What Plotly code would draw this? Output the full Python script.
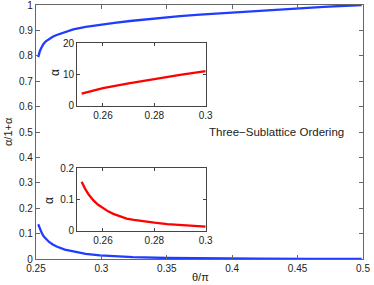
import plotly.graph_objects as go

# Main panel: alpha/(1+alpha) vs theta/pi
theta_upper = [0.2517, 0.2522, 0.2530, 0.2542, 0.2556, 0.2575, 0.2600, 0.2628, 0.2658, 0.2720, 0.2785,
               0.2880, 0.2964, 0.3100, 0.3219, 0.3350, 0.3474, 0.3600, 0.3754, 0.3900, 0.4100,
               0.4300, 0.4500, 0.4700, 0.4990]
ratio_upper = [0.795, 0.807, 0.819, 0.833, 0.846, 0.857, 0.867, 0.875, 0.882, 0.894, 0.904,
               0.914, 0.921, 0.930, 0.937, 0.944, 0.950, 0.956, 0.962, 0.967, 0.974,
               0.981, 0.987, 0.993, 1.000]
theta_lower = [0.2517, 0.2524, 0.2531, 0.2545, 0.2560, 0.2580, 0.2600, 0.2628, 0.2658, 0.2720,
               0.2785, 0.2880, 0.2990, 0.3100, 0.3240, 0.3500, 0.3800, 0.4200, 0.4600, 0.4990]
ratio_lower = [0.137, 0.126, 0.117, 0.101, 0.088, 0.076, 0.067, 0.057, 0.049, 0.037,
               0.029, 0.020, 0.014, 0.010, 0.007, 0.004, 0.002, 0.001, 0.0003, 0.0]

# Inset 1: upper alpha
theta_in1 = [0.2517, 0.2550, 0.2600, 0.2700, 0.2800, 0.2900, 0.3000]
alpha_in1 = [3.85, 4.55, 5.6, 7.15, 8.55, 9.85, 11.1]

# Inset 2: lower alpha
theta_in2 = [0.2517, 0.2523, 0.2530, 0.2545, 0.2562, 0.2580, 0.2600, 0.2620, 0.2640, 0.2665,
             0.2692, 0.2720, 0.2750, 0.2800, 0.2850, 0.2900, 0.2950, 0.3000]
alpha_in2 = [0.157, 0.146, 0.135, 0.115, 0.098, 0.084, 0.072, 0.062, 0.054, 0.046,
             0.039, 0.035, 0.031, 0.0256, 0.021, 0.018, 0.0155, 0.013]

main_xticks = [0.25, 0.3, 0.35, 0.4, 0.45, 0.5]
main_xlabels = ["0.25", "0.3", "0.35", "0.4", "0.45", "0.5"]
main_yticks = [0, 0.1, 0.2, 0.3, 0.4, 0.5, 0.6, 0.7, 0.8, 0.9, 1]
main_ylabels = ["0", "0.1", "0.2", "0.3", "0.4", "0.5", "0.6", "0.7", "0.8", "0.9", "1"]
inset_xticks = [0.26, 0.28, 0.3]
inset_xlabels = ["0.26", "0.28", "0.3"]
in1_yticks = [0, 10, 20]
in1_ylabels = ["0", "10", "20"]
in2_yticks = [0, 0.1, 0.2]
in2_ylabels = ["0", "0.1", "0.2"]

BLUE = "#1f3cff"
RED = "#ff0000"
FONT = "Liberation Sans, Arial, sans-serif"

fig = go.Figure()
fig.add_trace(go.Scatter(x=theta_upper, y=ratio_upper, mode="lines",
                         line=dict(color=BLUE, width=2.3), xaxis="x", yaxis="y"))
fig.add_trace(go.Scatter(x=theta_lower, y=ratio_lower, mode="lines",
                         line=dict(color=BLUE, width=2.3), xaxis="x", yaxis="y"))
fig.add_trace(go.Scatter(x=theta_in1, y=alpha_in1, mode="lines",
                         line=dict(color=RED, width=2.3), xaxis="x2", yaxis="y2"))
fig.add_trace(go.Scatter(x=theta_in2, y=alpha_in2, mode="lines",
                         line=dict(color=RED, width=2.3), xaxis="x3", yaxis="y3"))

def ax(domain, rng, tv, tt, anchor, color="#666666", ticklen=4):
    return dict(domain=domain, range=rng, tickvals=tv, ticktext=tt, anchor=anchor,
                showline=True, linecolor=color, linewidth=1.3, mirror="ticks",
                ticks="inside", ticklen=ticklen, tickcolor=color, tickwidth=1,
                showgrid=False, zeroline=False, fixedrange=True, automargin=False,
                ticklabeloverflow="allow",
                tickfont=dict(family=FONT, size=10, color="#222222"))

main_xd = [36/374, 363/374]
main_yd = [1 - 259/285, 1 - 5/285]
in_xd = [77.3/374, 205.7/374]
in1_yd = [1 - 105.7/285, 1 - 43.3/285]
in2_yd = [1 - 230.7/285, 1 - 168.3/285]

def lab(text, x, y, angle=0, size=10):
    return dict(text=text, x=x/374, y=1 - y/285, xref="paper", yref="paper",
                xanchor="center", yanchor="middle", textangle=angle, showarrow=False,
                font=dict(family=FONT, size=size, color="#222222"))

fig.update_layout(
    width=374, height=285,
    margin=dict(l=0, r=0, t=0, b=0),
    paper_bgcolor="white", plot_bgcolor="white",
    showlegend=False,
    font=dict(family=FONT, size=10, color="#222222"),
    xaxis=ax(main_xd, [0.25, 0.5], main_xticks, main_xlabels, "y"),
    yaxis=ax(main_yd, [0, 1], main_yticks, main_ylabels, "x"),
    xaxis2=ax(in_xd, [0.25, 0.3], inset_xticks, inset_xlabels, "y2", color="#444444", ticklen=3),
    yaxis2=ax(in1_yd, [0, 20], in1_yticks, in1_ylabels, "x2", color="#444444", ticklen=3),
    xaxis3=ax(in_xd, [0.25, 0.3], inset_xticks, inset_xlabels, "y3", color="#444444", ticklen=3),
    yaxis3=ax(in2_yd, [0, 0.2], in2_yticks, in2_ylabels, "x3", color="#444444", ticklen=3),
    annotations=[
        lab("α/1+α", 8, 132, -90, 11),
        lab("θ/π", 200, 277, 0, 11),
        lab("α", 55, 73, -90, 12),
        lab("α", 49, 201, -90, 12),
        lab("Three−Sublattice Ordering", 276, 132, 0, 11.5),
    ],
)

fig.write_html("out.html", config={"displayModeBar": False},
               post_script="document.body.style.margin='0';document.body.style.padding='0';"
                           "document.documentElement.style.overflow='hidden';")
